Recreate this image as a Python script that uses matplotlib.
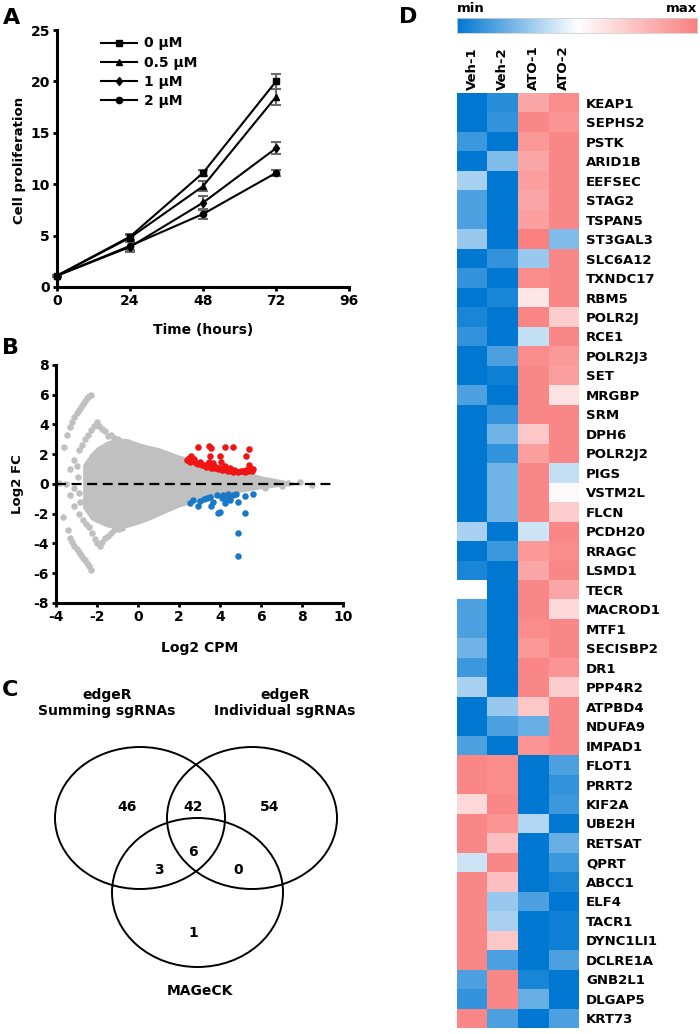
import numpy as np
import matplotlib
matplotlib.use("Agg")
import matplotlib.pyplot as plt
from matplotlib.colors import LinearSegmentedColormap
from matplotlib.patches import Ellipse

# -----------------------------
# Panel A: cell proliferation
# -----------------------------
time_h = [0, 24, 48, 72]
conc_labels = ["0 µM", "0.5 µM", "1 µM", "2 µM"]
prolif_0 = [1.1, 4.9, 11.1, 20.0]
prolif_05 = [1.1, 4.8, 9.8, 18.5]
prolif_1 = [1.1, 3.9, 8.2, 13.5]
prolif_2 = [1.1, 4.0, 7.1, 11.1]
err_0 = [0.1, 0.3, 0.3, 0.7]
err_05 = [0.1, 0.3, 0.5, 0.8]
err_1 = [0.1, 0.5, 0.7, 0.6]
err_2 = [0.1, 0.4, 0.5, 0.3]

# -----------------------------
# Panel B: MA plot
# -----------------------------
cloud_x = [-2.7, -2.3, -2.0, -1.5, -1.0, -0.5, 0.0, 0.5, 1.0, 1.5, 2.0, 2.5, 3.0, 4.0, 5.0, 6.0, 7.0, 7.6]
cloud_hi = [1.3, 2.1, 2.5, 2.9, 3.1, 3.05, 2.8, 2.6, 2.45, 2.2, 1.95, 1.75, 1.55, 1.25, 1.0, 0.55, 0.3, 0.12]
cloud_lo = [-1.6, -2.4, -2.6, -2.9, -3.0, -2.9, -2.7, -2.45, -2.15, -1.85, -1.55, -1.35, -1.15, -0.8, -0.55, -0.32, -0.15, -0.06]

tail_up_x = [-3.6, -3.45, -3.3, -3.2, -3.1, -3.0, -2.9, -2.8, -2.7, -2.6, -2.5, -2.4, -2.3]
tail_up_y = [2.5, 3.3, 3.8, 4.2, 4.5, 4.8, 5.0, 5.2, 5.4, 5.6, 5.75, 5.9, 6.0]
arc_up_x = [-3.3, -3.1, -2.9, -2.75, -2.6, -2.45, -2.3, -2.15, -2.0, -1.9, -1.75, -1.6, -1.45, -1.3, -1.15, -1.0]
arc_up_y = [1.0, 1.6, 2.3, 2.6, 3.0, 3.3, 3.6, 3.9, 4.2, 3.9, 3.7, 3.55, 3.2, 3.3, 3.1, 3.0]
left_x = [-3.85, -3.5, -3.3, -3.1, -2.95, -2.9, -3.0, -2.85]
left_y = [0.1, 0.0, -0.75, -0.3, 0.5, -0.6, 1.2, -1.2]
tail_lo_x = [-3.65, -3.4, -3.3, -3.2, -3.1, -3.0, -2.9, -2.8, -2.7, -2.6, -2.5, -2.4, -2.3]
tail_lo_y = [-2.2, -3.1, -3.6, -3.9, -4.15, -4.4, -4.6, -4.8, -4.95, -5.1, -5.3, -5.5, -5.8]
arc_lo_x = [-3.1, -2.9, -2.7, -2.55, -2.4, -2.25, -2.1, -2.0, -1.85, -1.75, -1.6, -1.45, -1.3, -1.15, -0.95, -0.8]
arc_lo_y = [-1.5, -2.0, -2.4, -2.7, -2.9, -3.3, -3.7, -4.0, -4.15, -3.9, -3.65, -3.5, -3.3, -3.1, -3.0, -2.95]
right_x = [6.5, 6.9, 7.3, 7.9, 8.5, 6.2, 7.0]
right_y = [0.2, 0.1, 0.05, 0.15, -0.1, -0.3, -0.15]

red_x = [2.4, 2.5, 2.55, 2.6, 2.7, 2.75, 2.85, 2.95, 3.0, 3.1, 3.2, 3.3, 3.4, 3.45, 3.5, 3.55, 3.65, 3.7,
         3.8, 3.9, 4.0, 4.05, 4.1, 4.25, 4.3, 4.4, 4.5, 4.6, 4.65, 4.7, 4.8, 4.9, 5.0, 5.1, 5.2, 5.25,
         5.35, 5.4, 5.45, 5.55, 5.6, 2.95, 3.45, 3.55, 3.5, 4.0, 4.25, 4.65, 5.4, 5.25]
red_y = [1.6, 1.75, 1.5, 1.85, 1.55, 1.65, 1.4, 1.35, 1.5, 1.3, 1.25, 1.15, 1.35, 1.5, 1.2, 1.1, 1.4, 1.05,
         1.15, 1.0, 1.1, 1.45, 0.95, 1.2, 0.92, 0.9, 1.05, 0.85, 0.82, 0.95, 0.85, 0.8, 0.85, 0.9, 0.8, 0.95,
         0.88, 1.3, 1.05, 0.85, 1.0, 2.47, 2.56, 2.4, 1.9, 1.88, 2.47, 2.47, 2.33, 1.9]
blue_x = [2.55, 2.7, 2.95, 3.0, 3.35, 3.5, 3.55, 3.65, 3.85, 3.9, 4.0, 4.1, 4.15, 4.25, 4.3, 4.45, 4.5,
          4.65, 4.8, 4.9, 5.2, 5.2, 5.6, 4.9, 4.9, 3.2, 4.4]
blue_y = [-1.3, -1.1, -1.5, -1.15, -0.95, -0.85, -1.5, -1.2, -0.75, -1.95, -1.85, -0.95, -0.75, -1.3, -0.95,
          -0.85, -1.1, -0.75, -0.65, -1.2, -0.8, -1.95, -0.7, -3.27, -4.84, -1.0, -0.7]

# -----------------------------
# Panel C: Venn counts
# -----------------------------
venn_sets = ["edgeR\nSumming sgRNAs", "edgeR\nIndividual sgRNAs", "MAGeCK"]
venn_counts = {"100": 46, "110": 42, "010": 54, "101": 3, "111": 6, "011": 0, "001": 1}

# -----------------------------
# Panel D: heatmap (0 = min, 1 = max)
# -----------------------------
samples = ["Veh-1", "Veh-2", "ATO-1", "ATO-2"]
genes = ["KEAP1", "SEPHS2", "PSTK", "ARID1B", "EEFSEC", "STAG2", "TSPAN5", "ST3GAL3", "SLC6A12",
         "TXNDC17", "RBM5", "POLR2J", "RCE1", "POLR2J3", "SET", "MRGBP", "SRM", "DPH6", "POLR2J2",
         "PIGS", "VSTM2L", "FLCN", "PCDH20", "RRAGC", "LSMD1", "TECR", "MACROD1", "MTF1", "SECISBP2",
         "DR1", "PPP4R2", "ATPBD4", "NDUFA9", "IMPAD1", "FLOT1", "PRRT2", "KIF2A", "UBE2H", "RETSAT",
         "QPRT", "ABCC1", "ELF4", "TACR1", "DYNC1LI1", "DCLRE1A", "GNB2L1", "DLGAP5", "KRT73"]
veh1 = [0.0, 0.0, 0.12, 0.0, 0.33, 0.15, 0.15, 0.3, 0.0, 0.1, 0.0, 0.05, 0.1, 0.0, 0.0, 0.15, 0.0,
        0.0, 0.0, 0.0, 0.0, 0.0, 0.33, 0.0, 0.05, 0.5, 0.15, 0.15, 0.22, 0.12, 0.33, 0.0, 0.0, 0.15,
        0.97, 0.97, 0.65, 0.97, 0.97, 0.4, 0.97, 0.97, 0.97, 0.97, 0.97, 0.15, 0.1, 0.97]
veh2 = [0.08, 0.1, 0.0, 0.25, 0.0, 0.0, 0.0, 0.0, 0.1, 0.0, 0.05, 0.0, 0.0, 0.15, 0.03, 0.0, 0.1,
        0.22, 0.1, 0.22, 0.22, 0.22, 0.0, 0.12, 0.0, 0.0, 0.0, 0.0, 0.0, 0.0, 0.0, 0.3, 0.15, 0.0,
        0.95, 0.95, 0.97, 0.92, 0.75, 0.97, 0.75, 0.3, 0.33, 0.72, 0.15, 0.97, 0.97, 0.15]
ato1 = [0.85, 0.97, 0.9, 0.85, 0.88, 0.85, 0.88, 1.0, 0.3, 0.95, 0.6, 0.98, 0.38, 0.95, 0.97, 0.97,
        0.97, 0.72, 0.88, 0.97, 0.97, 0.97, 0.4, 0.9, 0.85, 0.97, 0.97, 0.95, 0.9, 0.97, 0.97, 0.72,
        0.2, 0.92, 0.0, 0.0, 0.0, 0.35, 0.0, 0.0, 0.0, 0.15, 0.0, 0.0, 0.0, 0.05, 0.2, 0.0]
ato2 = [0.95, 0.92, 0.97, 0.97, 0.97, 0.97, 0.97, 0.25, 0.97, 0.97, 0.97, 0.7, 0.97, 0.9, 0.88, 0.62,
        0.97, 0.97, 0.97, 0.38, 0.52, 0.7, 0.97, 0.95, 0.97, 0.85, 0.65, 0.97, 0.97, 0.92, 0.7, 0.97,
        0.97, 0.97, 0.15, 0.1, 0.12, 0.0, 0.2, 0.12, 0.05, 0.0, 0.03, 0.03, 0.15, 0.0, 0.0, 0.15]

# -----------------------------
# Figure styling
# -----------------------------
plt.rcParams.update({
    "font.family": "DejaVu Sans",
    "font.weight": "bold",
    "font.size": 9.5,
    "axes.linewidth": 2.2,
    "axes.unicode_minus": False,
    "xtick.direction": "out",
    "ytick.direction": "out",
    "xtick.major.size": 3,
    "ytick.major.size": 3,
    "xtick.major.width": 2,
    "ytick.major.width": 2,
})

W, H = 700, 1034
fig = plt.figure(figsize=(W / 100, H / 100), dpi=100)


def box(x0, y0, x1, y1):
    # pixel box (top-left origin) -> figure fraction rect
    return [x0 / W, 1 - y1 / H, (x1 - x0) / W, (y1 - y0) / H]


def ftext(x, y, s, **kw):
    fig.text(x / W, 1 - y / H, s, **kw)


def style_axes(ax):
    for side in ["top", "right"]:
        ax.spines[side].set_visible(False)
    ax.tick_params(labelsize=10, pad=2)
    for lab in ax.get_xticklabels() + ax.get_yticklabels():
        lab.set_fontweight("bold")


# ---- Panel A ----
ax_a = fig.add_axes(box(57, 30, 349, 287))
series = [(prolif_0, err_0, "s", 4.5), (prolif_05, err_05, "^", 4.5),
          (prolif_1, err_1, "d", 4.5), (prolif_2, err_2, "o", 4.5)]
handles = []
for (vals, errs, mk, ms), lab in zip(series, conc_labels):
    ax_a.errorbar(time_h, vals, yerr=errs, fmt="none", ecolor="#6a6a6a", elinewidth=1.5,
                  capsize=3.5, capthick=1.5, zorder=2, clip_on=False)
    ln, = ax_a.plot(time_h, vals, color="black", lw=1.5, marker=mk, ms=ms, label=lab,
                    zorder=3, clip_on=False)
    handles.append(ln)
ax_a.set_xlim(0, 96)
ax_a.set_ylim(0, 25)
ax_a.set_xticks([0, 24, 48, 72, 96])
ax_a.set_yticks([0, 5, 10, 15, 20, 25])
style_axes(ax_a)
ax_a.legend(handles, conc_labels, loc="upper left", bbox_to_anchor=(0.15, 0.975), frameon=False,
            handlelength=2.6, handletextpad=0.5, labelspacing=0.38, borderpad=0, borderaxespad=0,
            prop={"size": 10, "weight": "bold"}, numpoints=1)
ftext(20, 160, "Cell proliferation", rotation=90, ha="center", va="center", fontsize=9.5)
ftext(203, 330, "Time (hours)", ha="center", va="center", fontsize=10)

# ---- Panel B ----
gray = "#c0c0c0"
ax_b = fig.add_axes(box(56, 365, 343, 603))
ax_b.fill_between(cloud_x, cloud_lo, cloud_hi, color=gray, lw=0, zorder=1)
for gx, gy in [(tail_up_x, tail_up_y), (arc_up_x, arc_up_y), (left_x, left_y),
               (tail_lo_x, tail_lo_y), (arc_lo_x, arc_lo_y), (right_x, right_y)]:
    ax_b.scatter(gx, gy, s=22, color=gray, lw=0, zorder=1)
ax_b.scatter(red_x, red_y, s=22, color="#f01414", lw=0, zorder=3)
ax_b.scatter(blue_x, blue_y, s=22, color="#1a78c8", lw=0, zorder=3)
ax_b.plot([-4, 9.45], [0, 0], color="black", lw=1.6, dashes=(4.5, 2.5), zorder=4)
ax_b.set_xlim(-4, 10)
ax_b.set_ylim(-8, 8)
ax_b.set_xticks(np.arange(-4, 11, 2))
ax_b.set_yticks(np.arange(-8, 9, 2))
style_axes(ax_b)
ftext(18, 484, "Log2 FC", rotation=90, ha="center", va="center", fontsize=9.5)
ftext(200, 648, "Log2 CPM", ha="center", va="center", fontsize=10)

# ---- Panel C (Venn, drawn in pixel space) ----
ov = fig.add_axes([0, 0, 1, 1], zorder=-1)
ov.set_xlim(0, W)
ov.set_ylim(H, 0)
ov.axis("off")
for (cx, cy, w, h) in [(140, 818, 170, 142), (252, 818, 170, 142), (197.5, 892.5, 171, 149)]:
    ov.add_patch(Ellipse((cx, cy), w, h, fill=False, ec="black", lw=1.4))
count_pos = {"100": (127, 807), "110": (193, 807), "010": (270, 807), "111": (193, 852),
             "101": (159, 870), "011": (238, 870), "001": (193, 933)}
for key, n in venn_counts.items():
    x, y = count_pos[key]
    ov.text(x, y, str(n), ha="center", va="center", fontsize=10, fontweight="bold")
ov.text(107, 703, venn_sets[0], ha="center", va="center", fontsize=10, fontweight="bold",
        linespacing=1.1)
ov.text(285, 703, venn_sets[1], ha="center", va="center", fontsize=10, fontweight="bold",
        linespacing=1.1)
ov.text(200, 991, venn_sets[2], ha="center", va="center", fontsize=10, fontweight="bold")

# ---- Panel D (heatmap) ----
cmap = LinearSegmentedColormap.from_list("bwr_soft", ["#0078d2", "#ffffff", "#fa8080"])
data = np.column_stack([veh1, veh2, ato1, ato2])
ax_d = fig.add_axes(box(457, 93, 579, 1028))
ax_d.pcolormesh(np.arange(len(samples) + 1), np.arange(len(genes) + 1), data,
                cmap=cmap, vmin=0, vmax=1, shading="flat")
ax_d.set_xlim(0, len(samples))
ax_d.set_ylim(len(genes), 0)
for sp in ax_d.spines.values():
    sp.set_visible(False)
ax_d.xaxis.tick_top()
ax_d.set_xticks(np.arange(len(samples)) + 0.5)
ax_d.set_xticklabels(samples, rotation=90, fontsize=9.5, fontweight="bold")
ax_d.yaxis.tick_right()
ax_d.set_yticks(np.arange(len(genes)) + 0.5)
ax_d.set_yticklabels(genes, fontsize=9.5, fontweight="bold")
ax_d.tick_params(length=0, pad=5)
ax_d.tick_params(axis="x", pad=2)

# colour bar
ax_cb = fig.add_axes(box(457, 18, 697, 33))
ax_cb.imshow(np.linspace(0, 1, 256)[None, :], aspect="auto", cmap=cmap, vmin=0, vmax=1)
ax_cb.set_xticks([])
ax_cb.set_yticks([])
for sp in ax_cb.spines.values():
    sp.set_linewidth(0.6)
    sp.set_color("#d0d0d0")
ftext(457, 9, "min", ha="left", va="center", fontsize=9.5)
ftext(697, 9, "max", ha="right", va="center", fontsize=9.5)

# panel letters
for lab, (x, y) in {"A": (12, 18), "B": (11, 348), "C": (10, 690), "D": (408, 17)}.items():
    ftext(x, y, lab, ha="center", va="center", fontsize=16, fontweight="bold")

fig.savefig("out.png", dpi=100)
plt.close(fig)
